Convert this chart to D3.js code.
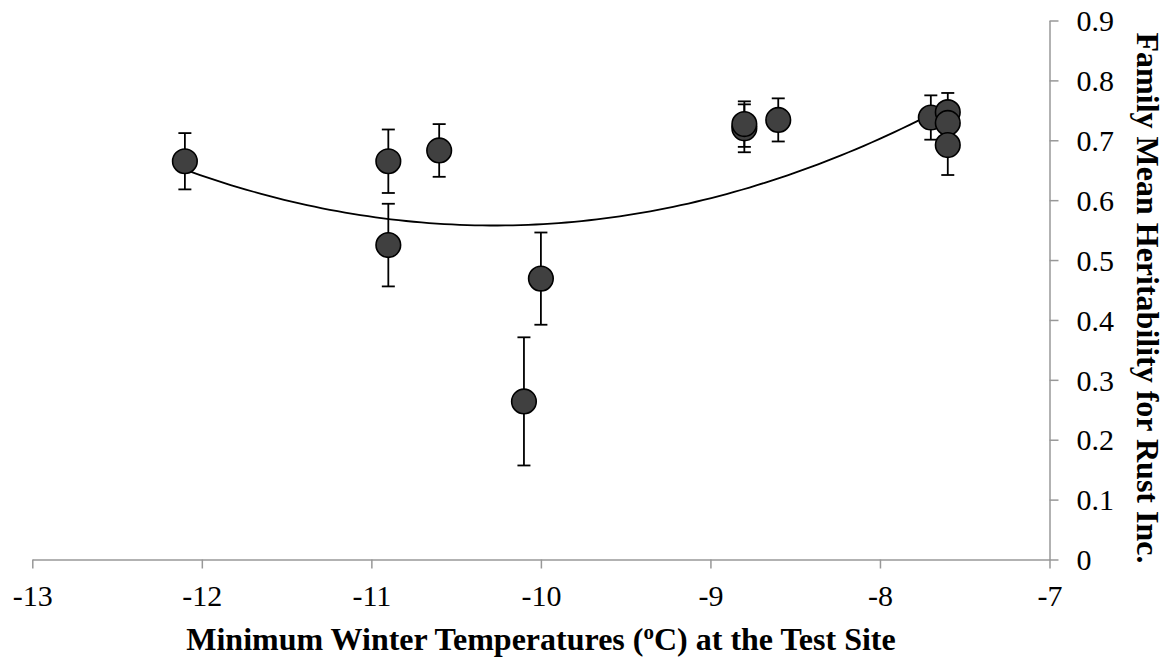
<!DOCTYPE html>
<html><head><meta charset="utf-8">
<script src="https://cdn.jsdelivr.net/npm/d3@7/dist/d3.min.js"></script>
<style>body{margin:0;background:#fff}svg{display:block}</style>
</head><body>
<svg id="c" width="1170" height="661"></svg>
<script>
const temps = [-12.1, -10.9, -10.9, -10.6, -10.1, -10.0, -8.8, -8.8, -8.6, -7.7, -7.6, -7.6, -7.6];
const heritability = [0.665, 0.665, 0.525, 0.683, 0.264, 0.469, 0.720, 0.727, 0.734, 0.738, 0.747, 0.729, 0.692];
const errors = [0.047, 0.053, 0.069, 0.044, 0.107, 0.077, 0.040, 0.038, 0.036, 0.037, 0.032, 0.022, 0.050];
const xTicks = [-13, -12, -11, -10, -9, -8, -7];
const yTicks = [0, 0.1, 0.2, 0.3, 0.4, 0.5, 0.6, 0.7, 0.8, 0.9];

const FONT = "'Liberation Serif', 'Times New Roman', Times, 'DejaVu Serif', serif";
const svg = d3.select("#c").attr("font-family", FONT);
const x = d3.scaleLinear().domain([-13, -7]).range([32.3, 1049.5]);
const y = d3.scaleLinear().domain([0, 0.9]).range([559.5, 20.5]);
const axisColor = "#989898";

// X axis
const gx = svg.append("g").attr("transform", `translate(0,${y(0)})`)
  .call(d3.axisBottom(x).tickValues(xTicks).tickSize(9).tickSizeOuter(0).tickFormat(d => d));
gx.attr("font-family", FONT);
gx.select(".domain").attr("stroke", axisColor).attr("stroke-width", 1.5);
gx.selectAll(".tick line").attr("stroke", axisColor).attr("stroke-width", 1.5);
gx.selectAll(".tick text").attr("font-family", FONT).attr("font-size", 30).attr("fill", "#000").attr("dy", null).attr("y", 46);

// Y axis (right)
const gy = svg.append("g").attr("transform", `translate(${x(-7)},0)`)
  .call(d3.axisRight(y).tickValues(yTicks).tickSize(9).tickSizeOuter(0).tickFormat(d => d === 0 ? "0" : d3.format(".1f")(d)));
gy.attr("font-family", FONT);
gy.select(".domain").attr("stroke", axisColor).attr("stroke-width", 1.5);
gy.selectAll(".tick line").attr("stroke", axisColor).attr("stroke-width", 1.5);
gy.selectAll(".tick text").attr("font-family", FONT).attr("font-size", 30).attr("fill", "#000").attr("x", 27).attr("dy", "0.34em");

// Trendline: least-squares quadratic fit of the data (as in the spreadsheet)
function polyfit2(xs, ys) {
  let S = Array(5).fill(0), T = Array(3).fill(0);
  xs.forEach((xi, i) => { for (let k = 0; k < 5; k++) S[k] += Math.pow(xi, k); for (let k = 0; k < 3; k++) T[k] += ys[i] * Math.pow(xi, k); });
  const A = [[S[0], S[1], S[2], T[0]], [S[1], S[2], S[3], T[1]], [S[2], S[3], S[4], T[2]]];
  for (let i = 0; i < 3; i++) { for (let j = i + 1; j < 3; j++) { const f = A[j][i] / A[i][i]; for (let k = i; k < 4; k++) A[j][k] -= f * A[i][k]; } }
  const c = [0, 0, 0];
  for (let i = 2; i >= 0; i--) { let s = A[i][3]; for (let k = i + 1; k < 3; k++) s -= A[i][k] * c[k]; c[i] = s / A[i][i]; }
  return c;
}
const coef = polyfit2(temps, heritability);
const xmin = d3.min(temps), xmax = d3.max(temps);
const trendX = d3.range(0, 101).map(i => xmin + (xmax - xmin) * i / 100);
svg.append("path").datum(trendX)
  .attr("fill", "none").attr("stroke", "#000").attr("stroke-width", 1.8)
  .attr("d", d3.line().x(d => x(d)).y(d => y(coef[0] + coef[1] * d + coef[2] * d * d)));

const pts = temps.map((t, i) => ({ t, h: heritability[i], e: errors[i] }));
// Error bars
const eb = svg.append("g").attr("stroke", "#000").attr("stroke-width", 1.8);
pts.forEach(p => {
  const cx = x(p.t);
  eb.append("line").attr("x1", cx).attr("x2", cx).attr("y1", y(p.h - p.e)).attr("y2", y(p.h + p.e));
  [p.h - p.e, p.h + p.e].forEach(v => eb.append("line").attr("x1", cx - 6.5).attr("x2", cx + 6.5).attr("y1", y(v)).attr("y2", y(v)));
});
// Markers
svg.append("g").selectAll("circle").data(pts).join("circle")
  .attr("cx", d => x(d.t)).attr("cy", d => y(d.h)).attr("r", 12.3)
  .attr("fill", "#404040").attr("stroke", "#000").attr("stroke-width", 1.6);

// Titles
const xt = svg.append("text").attr("x", 541).attr("y", 650).attr("text-anchor", "middle")
  .attr("font-family", FONT).attr("font-size", 32).attr("font-weight", "bold").attr("fill", "#000");
xt.append("tspan").text("Minimum Winter Temperatures (");
xt.append("tspan").text("o").attr("font-size", 21).attr("dy", -11);
xt.append("tspan").text("C) at the Test Site").attr("dy", 11);

svg.append("text").attr("transform", "translate(1137,298) rotate(90)").attr("text-anchor", "middle")
  .attr("font-family", FONT).attr("font-size", 32).attr("font-weight", "bold").attr("fill", "#000")
  .text("Family Mean Heritability for Rust Inc.");
</script>
</body></html>
